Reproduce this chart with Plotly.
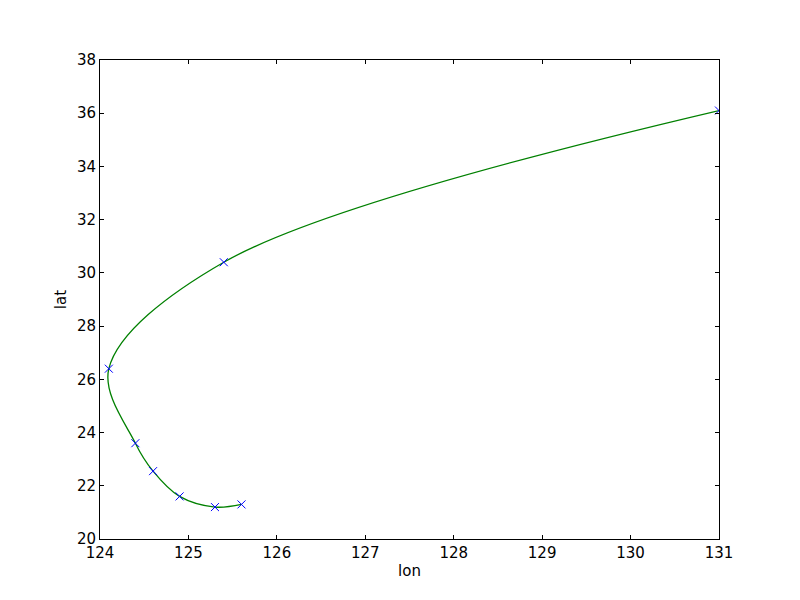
import plotly.graph_objects as go

lon = [125.6, 125.3, 124.9, 124.6, 124.4, 124.1, 125.4, 131.0]
lat = [21.3, 21.2, 21.6, 22.55, 23.6, 26.4, 30.4, 36.1]

x_ticks = [124, 125, 126, 127, 128, 129, 130, 131]
y_ticks = [20, 22, 24, 26, 28, 30, 32, 34, 36, 38]

fig = go.Figure()
fig.add_trace(go.Scatter(x=lon, y=lat, mode="lines",
                         line=dict(color="#008000", width=1.3, shape="spline", smoothing=1.0),
                         hoverinfo="skip"))
fig.add_trace(go.Scatter(x=lon, y=lat, mode="markers",
                         marker=dict(symbol="x-thin", size=8, color="#0000ff",
                                     line=dict(color="#0000ff", width=1))))

axis_common = dict(showgrid=False, zeroline=False, showline=True, linecolor="black", linewidth=1,
                   mirror="ticks", ticks="inside", ticklen=4, tickcolor="black",
                   tickfont=dict(family="DejaVu Sans", size=15, color="black"))
fig.update_xaxes(range=[124, 131], tickvals=x_ticks, ticktext=[str(v) for v in x_ticks],
                 title=dict(text="lon", font=dict(family="DejaVu Sans", size=15, color="black"), standoff=4),
                 **axis_common)
fig.update_yaxes(range=[20, 38], tickvals=y_ticks, ticktext=[str(v) for v in y_ticks],
                 title=dict(text="lat", font=dict(family="DejaVu Sans", size=15, color="black"), standoff=6),
                 **axis_common)
fig.update_layout(width=800, height=600, margin=dict(l=92, r=89, t=52, b=69),
                  paper_bgcolor="white", plot_bgcolor="white", showlegend=False)
fig.write_html("out.html")
